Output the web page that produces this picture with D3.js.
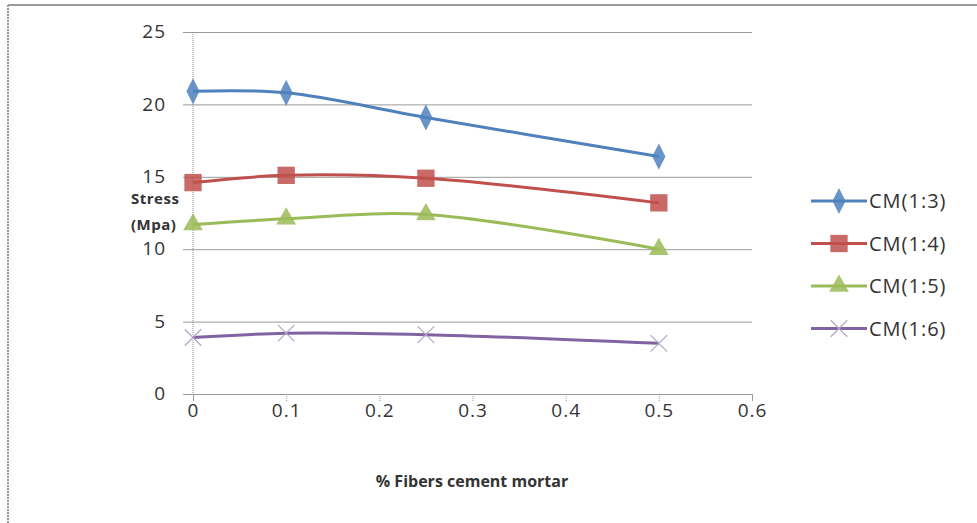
<!DOCTYPE html>
<html>
<head>
    <script src="https://d3js.org/d3.v7.min.js"></script>
    <style>
        body { margin: 0; background: #fff; }
        text { font-family: "Open Sans", "Liberation Sans", sans-serif; }
    </style>
</head>
<body>
    <svg id="mysvg" width="977" height="523"></svg>
    <script>
        var svg = d3.select("svg");
        var margin = { top: 32, left: 193, right: 225, bottom: 129 };
        var plotW = 977 - margin.left - margin.right;   // 559
        var plotH = 523 - margin.top - margin.bottom;   // 362

        // data
        var fibers = [0, 0.1, 0.25, 0.5];
        var cm13 = [20.9, 20.8, 19.1, 16.4];
        var cm14 = [14.6, 15.1, 14.9, 13.2];
        var cm15 = [11.7, 12.1, 12.4, 10.0];
        var cm16 = [3.9, 4.2, 4.1, 3.5];
        var seriesNames = ["CM(1:3)", "CM(1:4)", "CM(1:5)", "CM(1:6)"];
        var xTicks = [0, 0.1, 0.2, 0.3, 0.4, 0.5, 0.6];
        var yTicks = [0, 5, 10, 15, 20, 25];

        var series = [
            { name: seriesNames[0], values: cm13, color: "#4f81bd", shape: "diamond" },
            { name: seriesNames[1], values: cm14, color: "#c0504d", shape: "square" },
            { name: seriesNames[2], values: cm15, color: "#9bbb59", shape: "triangle" },
            { name: seriesNames[3], values: cm16, color: "#8064a2", shape: "cross" }
        ];

        var xScale = d3.scaleLinear().domain([0, 0.6]).range([0, plotW]);
        var yScale = d3.scaleLinear().domain([0, 25]).range([plotH, 0]);

        // outer frame (top and left only)
        svg.append("line").attr("x1", 8).attr("x2", 977).attr("y1", 5).attr("y2", 5)
            .attr("stroke", "#999").attr("stroke-width", 2);
        svg.append("line").attr("x1", 8).attr("x2", 8).attr("y1", 5).attr("y2", 523)
            .attr("stroke", "#999").attr("stroke-width", 2).attr("stroke-dasharray", "2,1");

        var g = svg.append("g")
            .attr("transform", "translate(" + margin.left + "," + margin.top + ")");

        // gridlines + y tick labels
        var yAxis = d3.axisLeft(yScale).tickValues(yTicks).tickSize(-plotW - 10).tickPadding(17)
            .tickFormat(d3.format("d"));
        var yg = g.append("g").attr("transform", "translate(-10,0)").call(yAxis);
        yg.select(".domain").remove();
        yg.selectAll(".tick line").attr("stroke", "#9a9a9a").attr("stroke-width", 1);
        yg.selectAll(".tick text").attr("fill", "#333").attr("dy", "0.3em")
            .style("font-size", "19px").style("letter-spacing", "1px");

        // y axis line (dotted)
        g.append("line").attr("x1", 0).attr("x2", 0).attr("y1", 0).attr("y2", plotH)
            .attr("stroke", "#888").attr("stroke-dasharray", "1,1");

        // x axis
        var xAxis = d3.axisBottom(xScale).tickValues(xTicks).tickSize(7).tickPadding(3)
            .tickFormat(function (d) { return d === 0 ? "0" : d3.format(".1f")(d); });
        var xg = g.append("g").attr("transform", "translate(0," + plotH + ")").call(xAxis);
        xg.select(".domain").attr("stroke", "#9a9a9a");
        xg.selectAll(".tick line").attr("stroke", "#999").attr("stroke-dasharray", "1,1");
        xg.selectAll(".tick text").attr("fill", "#333")
            .style("font-size", "19px").style("letter-spacing", "1px");

        // axis titles
        var yt = svg.append("text").attr("x", 131).attr("y", 204)
            .attr("fill", "#333").style("font-size", "15px").style("font-weight", "bold")
            .style("letter-spacing", "0.5px");
        yt.append("tspan").attr("x", 131).text("Stress");
        yt.append("tspan").attr("x", 131).attr("dy", 26).text("(Mpa)");

        svg.append("text").attr("x", 472).attr("y", 487).attr("text-anchor", "middle")
            .attr("fill", "#333").style("font-size", "16px").style("font-weight", "bold")
            .text("% Fibers cement mortar");

        // markers
        var symbolFor = {
            diamond: d3.symbol().type(d3.symbolDiamond).size(150),
            square: d3.symbol().type(d3.symbolSquare).size(300),
            triangle: d3.symbol().type(d3.symbolTriangle).size(170),
            cross: d3.symbol().type(d3.symbolX).size(180)
        };

        var line = d3.line()
            .x(function (d, i) { return xScale(fibers[i]); })
            .y(function (d) { return yScale(d); })
            .curve(d3.curveCatmullRom.alpha(0.5));

        series.forEach(function (s) {
            g.append("path").datum(s.values)
                .attr("d", line)
                .attr("fill", "none")
                .attr("stroke", s.color)
                .attr("stroke-width", 3);

            var pts = g.selectAll(null).data(s.values).enter().append("path")
                .attr("transform", function (d, i) {
                    return "translate(" + xScale(fibers[i]) + "," + yScale(d) + ")" +
                        (s.shape === "diamond" ? " scale(1,1.15)" : "");
                })
                .attr("d", symbolFor[s.shape]());
            if (s.shape === "cross") {
                pts.attr("fill", "none").attr("stroke", "#b3a6c9").attr("stroke-width", 1.2);
            } else {
                pts.attr("fill", s.color).attr("opacity", 0.85);
            }
        });

        // legend
        var legend = svg.append("g");
        series.forEach(function (s, i) {
            var ly = 201 + i * 42.5;
            var lg = legend.append("g").attr("transform", "translate(0," + ly + ")");
            lg.append("line").attr("x1", 811).attr("x2", 867).attr("y1", 0).attr("y2", 0)
                .attr("stroke", s.color).attr("stroke-width", 3);
            var m = lg.append("path")
                .attr("transform", "translate(839,0)" + (s.shape === "diamond" ? " scale(1,1.15)" : ""))
                .attr("d", symbolFor[s.shape]());
            if (s.shape === "cross") {
                m.attr("fill", "none").attr("stroke", "#b3a6c9").attr("stroke-width", 1.2);
            } else {
                m.attr("fill", s.color).attr("opacity", 0.85);
            }
            lg.append("text").attr("x", 869).attr("y", 0).attr("dy", "0.35em")
                .attr("fill", "#333").style("font-size", "20px").style("letter-spacing", "1px")
                .text(s.name);
        });
    </script>
</body>
</html>
